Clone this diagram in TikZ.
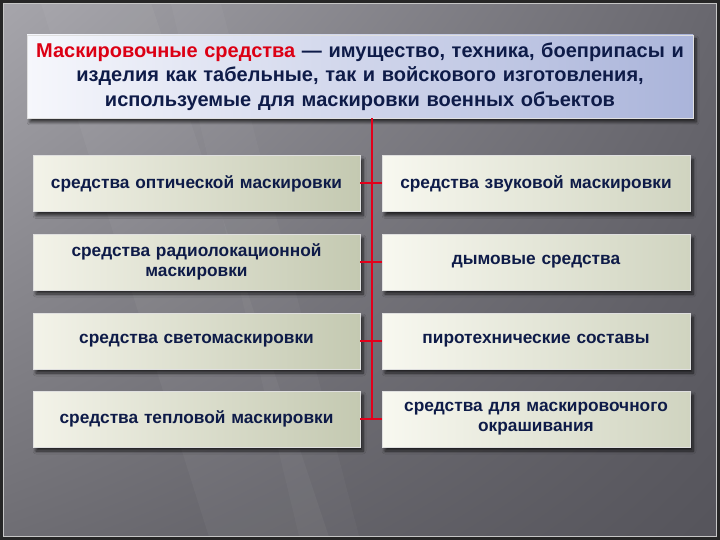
\documentclass[tikz,border=0pt]{standalone}
\usepackage{fontspec}
\setmainfont{Liberation Sans}
\usetikzlibrary{shadows,shadings,shadows.blur}
\definecolor{inktext}{HTML}{0E1B48}
\definecolor{inkred}{HTML}{DC0014}
\definecolor{busred}{HTML}{E3001B}
\definecolor{bgul}{HTML}{A7A6AC}
\definecolor{bgur}{HTML}{68676E}
\definecolor{bgll}{HTML}{6E6D73}
\definecolor{bglr}{HTML}{55545B}
\begin{document}
\begin{tikzpicture}[x=1pt,y=-1pt]
  \tikzstyle{panel}=[draw=white!75!gray, line width=0.5pt, text=inktext, align=center,
    font=\bfseries\fontsize{17.3}{20}\selectfont, inner sep=2pt,
    blur shadow={shadow xshift=3pt, shadow yshift=-4pt, shadow opacity=70, shadow blur steps=6, shadow blur radius=3pt}]
  \tikzstyle{leftbox}=[panel, left color={rgb,255:red,243;green,243;blue,233}, right color={rgb,255:red,196;green,201;blue,177},
    minimum width=327pt, minimum height=56pt, text width=322pt]
  \tikzstyle{rightbox}=[panel, left color={rgb,255:red,248;green,248;blue,240}, right color={rgb,255:red,208;green,212;blue,192},
    minimum width=308pt, minimum height=56pt, text width=304pt]
  \tikzstyle{busline}=[draw=busred, line width=2pt]
  % background
  \useasboundingbox (0,0) rectangle (720,540);
  \shade[upper left=bgul, upper right=bgur, lower left=bgll, lower right=bglr] (0,0) rectangle (720,540);
  \fill[white, opacity=.04] (40,0) -- (150,0) -- (330,540) -- (210,540) -- cycle;
  \fill[white, opacity=.03] (170,0) -- (220,0) -- (360,540) -- (300,540) -- cycle;
  \draw[black!85, line width=3pt] (1.5,1.5) rectangle (718.5,538.5);
  \draw[white!55!gray, line width=0.6pt] (3.5,3.5) rectangle (716.5,536.5);
  % title
  \node[panel, left color={rgb,255:red,246;green,247;blue,252}, right color={rgb,255:red,170;green,180;blue,218},
    minimum width=666pt, minimum height=83pt, text width=662pt,
    font=\bfseries\fontsize{20}{24.5}\selectfont] (title) at (360,76.5)
    {\textcolor{inkred}{Маскировочные средства} — имущество, техника, боеприпасы и\\
     изделия как табельные, так и войскового изготовления,\\
     используемые для маскировки военных объектов};
  % left column
  \node[leftbox] (optic) at (196.5,183.5) {средства оптической маскировки};
  \node[leftbox] (radar) at (196.5,262) {средства радиолокационной\\ маскировки};
  \node[leftbox] (light) at (196.5,341) {средства светомаскировки};
  \node[leftbox] (heat) at (196.5,419) {средства тепловой маскировки};
  % right column
  \node[rightbox] (sound) at (536,183.5) {средства звуковой маскировки};
  \node[rightbox] (smoke) at (536,262) {дымовые средства};
  \node[rightbox] (pyro) at (536,341) {пиротехнические составы};
  \node[rightbox] (paint) at (536,419) {средства для маскировочного\\ окрашивания};
  % red bus
  \coordinate (bus) at (372,419);
  \draw[busline] (title.south -| bus) -- (bus);
  \draw[busline] (optic.east) -- (sound.west);
  \draw[busline] (radar.east) -- (smoke.west);
  \draw[busline] (light.east) -- (pyro.west);
  \draw[busline] (heat.east) -- (paint.west);
\end{tikzpicture}
\end{document}
